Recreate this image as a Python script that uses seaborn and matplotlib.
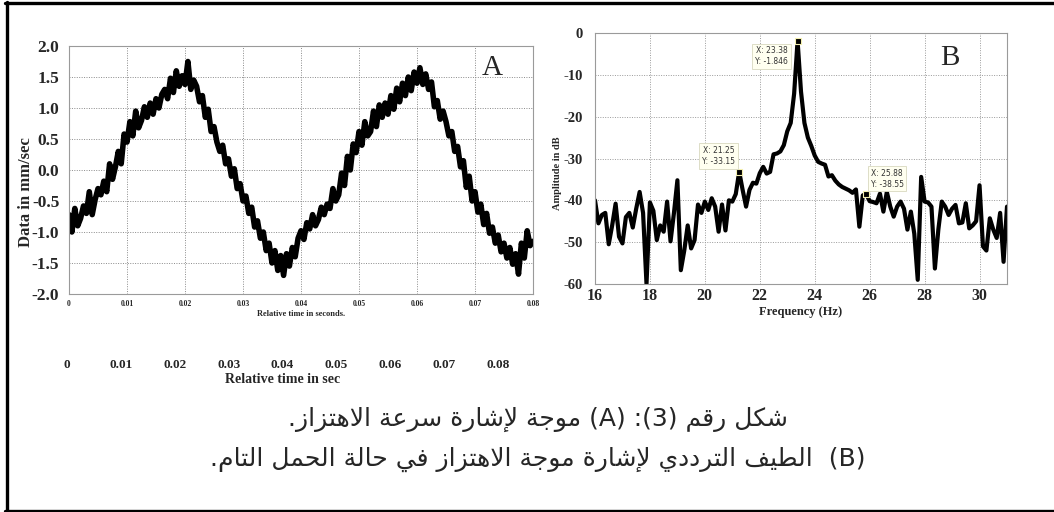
import numpy as np
import pandas as pd
import matplotlib
matplotlib.use("Agg")
import matplotlib.pyplot as plt
from matplotlib.lines import Line2D
import seaborn as sns

sns.set_theme(style="white")
plt.rcParams['font.family'] = ['Liberation Serif', 'DejaVu Sans']
plt.rcParams['axes.edgecolor'] = '#9a9a9a'
plt.rcParams['axes.linewidth'] = 0.8

# ---------------------------------------------------------------- data
# (A) vibration velocity waveform, sampled every 0.5 ms over 0..0.08 s
sample_step = 0.0005
velocity = [
    -0.72, -1.00, -0.62, -0.90, -0.78, -0.58, -0.70, -0.35, -0.72, -0.48,
    -0.30, -0.40, -0.18, -0.35, 0.10, -0.15, 0.05, 0.30, 0.10, 0.58,
    0.45, 0.78, 0.55, 0.95, 0.68, 0.80, 1.02, 0.85, 1.08, 0.90,
    1.15, 1.00, 1.22, 1.30, 1.15, 1.48, 1.25, 1.60, 1.35, 1.52,
    1.38, 1.75, 1.30, 1.45, 1.35, 1.10, 1.20, 0.85, 0.98, 0.62,
    0.70, 0.45, 0.30, 0.40, 0.10, 0.18, -0.10, 0.02, -0.30, -0.22,
    -0.50, -0.42, -0.70, -0.60, -0.92, -0.82, -1.10, -1.00, -1.30, -1.18,
    -1.50, -1.30, -1.62, -1.38, -1.70, -1.35, -1.55, -1.25, -1.40, -1.10,
    -0.98, -1.12, -0.85, -0.95, -0.72, -0.90, -0.80, -0.60, -0.72, -0.55,
    -0.62, -0.30, -0.50, -0.40, -0.05, -0.25, 0.22, 0.00, 0.42, 0.28,
    0.62, 0.40, 0.78, 0.55, 0.62, 0.95, 0.70, 1.05, 0.85, 1.08,
    0.90, 1.20, 0.98, 1.32, 1.10, 1.40, 1.20, 1.50, 1.28, 1.58,
    1.40, 1.65, 1.38, 1.55, 1.30, 1.42, 1.02, 1.12, 0.82, 0.95,
    0.78, 0.55, 0.62, 0.30, 0.38, 0.05, 0.15, -0.28, -0.10, -0.50,
    -0.35, -0.68, -0.55, -0.88, -0.70, -1.02, -0.92, -1.18, -1.05, -1.32,
    -1.18, -1.42, -1.25, -1.52, -1.35, -1.68, -1.18, -1.42, -0.98, -1.22,
    -1.15,
]
a_xticks = [0, 0.01, 0.02, 0.03, 0.04, 0.05, 0.06, 0.07, 0.08]
a_xticklabels = ['0', '0.01', '0.02', '0.03', '0.04', '0.05', '0.06', '0.07', '0.08']
a_yticks = [2.0, 1.5, 1.0, 0.5, 0.0, -0.5, -1.0, -1.5, -2.0]

# (B) amplitude spectrum, 0.125 Hz resolution over 16..31 Hz
freq_step = 0.125
amplitude_db = [
    -40.0, -45.5, -43.5, -43.0, -50.5, -46.0, -40.8, -48.7, -50.3, -44.0,
    -43.0, -46.5, -42.0, -38.0, -43.0, -60.0, -40.5, -42.5, -49.5, -46.0,
    -47.5, -40.3, -49.8, -43.0, -35.2, -56.7, -52.0, -46.0, -51.5, -49.5,
    -41.0, -43.0, -40.3, -42.3, -39.5, -41.5, -47.5, -41.0, -47.2, -40.0,
    -40.3, -38.5, -33.15, -37.5, -41.5, -37.5, -35.8, -36.0, -33.5, -32.0,
    -33.6, -33.2, -29.0, -28.8, -28.3, -26.8, -23.5, -21.5, -14.5, -1.846,
    -14.0, -21.5, -25.0, -27.0, -29.3, -30.8, -31.2, -31.5, -34.3, -34.0,
    -35.3, -36.2, -36.8, -37.2, -37.6, -38.2, -37.4, -46.3, -38.8, -38.55,
    -40.2, -40.4, -40.7, -38.4, -42.7, -38.0, -41.5, -43.9, -41.5, -40.3,
    -42.0, -47.0, -42.7, -48.0, -59.0, -34.4, -40.3, -40.5, -41.5, -56.3,
    -47.0, -40.3, -41.5, -43.5, -42.0, -41.1, -45.5, -45.3, -40.7, -46.7,
    -46.0, -45.0, -36.4, -51.0, -52.0, -44.3, -47.0, -49.0, -43.0, -54.7,
    -41.5,
]
tip_freq = [23.38, 21.25, 25.88]
tip_level = [-1.846, -33.15, -38.55]
b_xticks = [16, 18, 20, 22, 24, 26, 28, 30]
b_yticks = [0, -10, -20, -30, -40, -50, -60]

caption_line1 = "شكل رقم (3): (A) موجة لإشارة سرعة الاهتزاز."
caption_line2 = "(B)  الطيف الترددي لإشارة موجة الاهتزاز في حالة الحمل التام."

wave = pd.DataFrame({"t": np.arange(len(velocity)) * sample_step, "v": velocity})
spec = pd.DataFrame({"f": 16 + np.arange(len(amplitude_db)) * freq_step, "db": amplitude_db})

# ---------------------------------------------------------------- Arabic text shaping
FORMS = {
    '\u0627': ('\uFE8D', '\uFE8E', None, None),
    '\u0625': ('\uFE87', '\uFE88', None, None),
    '\u062A': ('\uFE95', '\uFE96', '\uFE97', '\uFE98'),
    '\u0629': ('\uFE93', '\uFE94', None, None),
    '\u062C': ('\uFE9D', '\uFE9E', '\uFE9F', '\uFEA0'),
    '\u062D': ('\uFEA1', '\uFEA2', '\uFEA3', '\uFEA4'),
    '\u062F': ('\uFEA9', '\uFEAA', None, None),
    '\u0631': ('\uFEAD', '\uFEAE', None, None),
    '\u0632': ('\uFEAF', '\uFEB0', None, None),
    '\u0633': ('\uFEB1', '\uFEB2', '\uFEB3', '\uFEB4'),
    '\u0634': ('\uFEB5', '\uFEB6', '\uFEB7', '\uFEB8'),
    '\u0637': ('\uFEC1', '\uFEC2', '\uFEC3', '\uFEC4'),
    '\u0639': ('\uFEC9', '\uFECA', '\uFECB', '\uFECC'),
    '\u0641': ('\uFED1', '\uFED2', '\uFED3', '\uFED4'),
    '\u0642': ('\uFED5', '\uFED6', '\uFED7', '\uFED8'),
    '\u0643': ('\uFED9', '\uFEDA', '\uFEDB', '\uFEDC'),
    '\u0644': ('\uFEDD', '\uFEDE', '\uFEDF', '\uFEE0'),
    '\u0645': ('\uFEE1', '\uFEE2', '\uFEE3', '\uFEE4'),
    '\u0647': ('\uFEE9', '\uFEEA', '\uFEEB', '\uFEEC'),
    '\u0648': ('\uFEED', '\uFEEE', None, None),
    '\u064A': ('\uFEF1', '\uFEF2', '\uFEF3', '\uFEF4'),
    'LAM_ALEF': ('\uFEFB', '\uFEFC', None, None),
    'LAM_ALEF_HAMZA': ('\uFEF9', '\uFEFA', None, None),
}


def shape_arabic(text):
    units, i = [], 0
    while i < len(text):
        c = text[i]
        if c == '\u0644' and i + 1 < len(text) and text[i + 1] in ('\u0627', '\u0625'):
            units.append('LAM_ALEF' if text[i + 1] == '\u0627' else 'LAM_ALEF_HAMZA')
            i += 2
        else:
            units.append(c)
            i += 1
    out = []
    for k, u in enumerate(units):
        if u not in FORMS:
            out.append(u)
            continue
        iso, fin, ini, med = FORMS[u]
        prev = units[k - 1] if k > 0 else None
        nxt = units[k + 1] if k + 1 < len(units) else None
        join_prev = prev in FORMS and FORMS[prev][2] is not None
        join_next = ini is not None and nxt in FORMS
        if join_prev and join_next:
            out.append(med)
        elif join_prev:
            out.append(fin)
        elif join_next:
            out.append(ini)
        else:
            out.append(iso)
    return out


def rtl_display(text):
    runs = []
    for g in shape_arabic(text):
        if g.isascii() and g.isalnum():
            if runs and runs[-1][0]:
                runs[-1][1].append(g)
            else:
                runs.append([True, [g]])
        else:
            runs.append([False, [g]])
    mirror = {'(': ')', ')': '('}
    pieces = []
    for ltr, gs in reversed(runs):
        pieces.append(''.join(gs) if ltr else mirror.get(gs[0], gs[0]))
    return ''.join(pieces)


# ---------------------------------------------------------------- figure
W, H = 1054, 512
fig = plt.figure(figsize=(W / 100, H / 100), dpi=100)
fig.patch.set_facecolor('white')


def px_axes(left, top, right, bottom):
    return fig.add_axes([left / W, 1 - bottom / H, (right - left) / W, (bottom - top) / H])


# outer frame
for xs, ys in [((6.5, 6.5), (2, 510.5)), ((5, 1054), (3, 3)), ((5, 1054), (510.5, 510.5))]:
    fig.add_artist(Line2D([x / W for x in xs], [1 - y / H for y in ys],
                          color='black', lw=2.4, transform=fig.transFigure))

# panel A
ax_a = px_axes(69, 46, 533, 294)
sns.lineplot(data=wave, x="t", y="v", ax=ax_a, color='black', lw=4.0)
ax_a.set_xlim(0, 0.08)
ax_a.set_ylim(-2.0, 2.0)
ax_a.set_xticks(a_xticks, labels=a_xticklabels, fontsize=5.5, fontweight='bold')
ax_a.set_yticks(a_yticks, labels=[f"{v:.1f}" for v in a_yticks], fontsize=12.5, fontweight='bold')
ax_a.tick_params(axis='x', length=2, pad=2, color='#777')
ax_a.tick_params(axis='y', length=0, pad=7)
ax_a.grid(True, linestyle=(0, (1, 1.5)), color='#8a8a8a', lw=0.7)
ax_a.set_xlabel("Relative time in seconds.", fontsize=6, fontweight='bold', labelpad=2)
ax_a.set_ylabel("Data in mm/sec", fontsize=12, fontweight='bold')
ax_a.yaxis.set_label_coords(-0.075, 0.41)
ax_a.text(0.912, 0.91, "A", transform=ax_a.transAxes, ha='center', va='center', fontsize=21)

# secondary time scale under panel A
ax_t = px_axes(67, 356, 498, 356.5)
ax_t.set_xlim(0, 0.08)
ax_t.set_yticks([])
for s in ax_t.spines.values():
    s.set_visible(False)
ax_t.set_xticks(a_xticks, labels=a_xticklabels, fontsize=9.5, fontweight='bold')
ax_t.tick_params(axis='x', length=0, pad=2)
ax_t.set_xlabel("Relative time in sec", fontsize=10, fontweight='bold', labelpad=1)
ax_t.patch.set_alpha(0)

# panel B
ax_b = px_axes(595, 33, 1007, 284)
sns.lineplot(data=spec, x="f", y="db", ax=ax_b, color='black', lw=3.0)
ax_b.set_xlim(16, 31)
ax_b.set_ylim(-60, 0)
ax_b.set_xticks(b_xticks, labels=[str(v) for v in b_xticks], fontsize=11.5, fontweight='bold')
ax_b.set_yticks(b_yticks, labels=[str(v) for v in b_yticks], fontsize=10.5, fontweight='bold')
ax_b.tick_params(axis='x', length=0, pad=3)
ax_b.tick_params(axis='y', length=0, pad=9)
ax_b.grid(True, linestyle=(0, (1, 1.5)), color='#9a9a9a', lw=0.7)
ax_b.set_xlabel("Frequency (Hz)", fontsize=9, fontweight='bold', labelpad=1)
ax_b.set_ylabel("")
fig.text(557 / W, 1 - 173 / H, "Amplitude in dB", rotation=90, ha='center', va='center',
         fontsize=7.5, fontweight='bold')
ax_b.text(0.862, 0.90, "B", transform=ax_b.transAxes, ha='center', va='center', fontsize=21)

# data cursors
ax_b.scatter(tip_freq, tip_level, marker='s', s=22, color='black', edgecolor='#f4f0b0',
             linewidth=0.8, zorder=5)
tip_offsets = [((-7, -4), 'right', 'top'), ((-3, 4), 'right', 'bottom'), ((3, 4), 'left', 'bottom')]
for f, lv, (off, ha, va) in zip(tip_freq, tip_level, tip_offsets):
    ax_b.annotate(f"X: {f:.2f}\nY: {lv:g}", xy=(f, lv), xytext=off, textcoords='offset points',
                  ha=ha, va=va, fontsize=5.5, family='DejaVu Sans', color='#333333',
                  linespacing=1.3,
                  bbox=dict(boxstyle='square,pad=0.35', fc='#fffff0', ec='#d8d8c0', lw=0.6),
                  zorder=6)

# caption
fig.text(0.51, 1 - 419 / H, rtl_display(caption_line1), ha='center', va='center',
         fontsize=18, family='DejaVu Sans')
fig.text(0.51, 1 - 459 / H, rtl_display(caption_line2), ha='center', va='center',
         fontsize=18, family='DejaVu Sans')

fig.savefig("out.png", dpi=100, facecolor='white')
